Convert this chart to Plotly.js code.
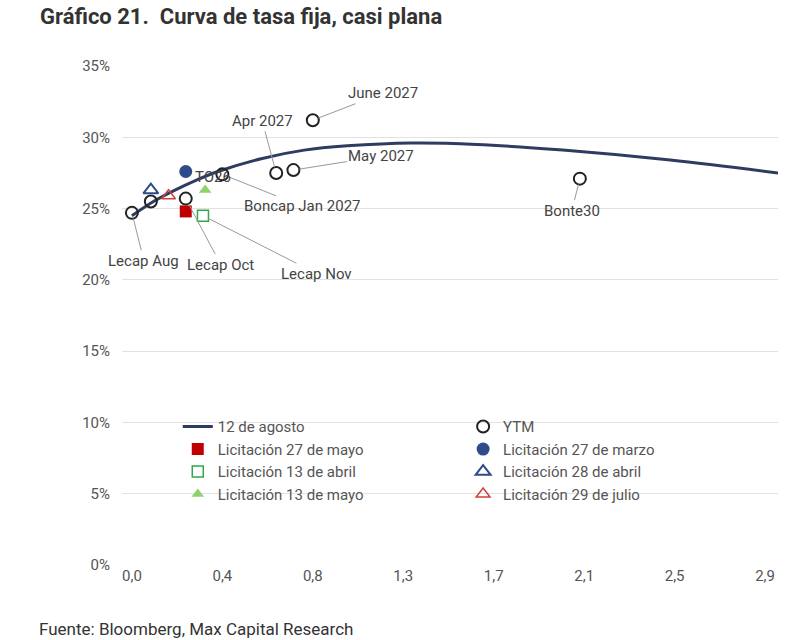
<!DOCTYPE html>
<html><head><meta charset="utf-8">
<script src="https://cdn.plot.ly/plotly-3.0.1.min.js"></script>
<style>body{margin:0}#chart{width:800px;height:640px}</style>
</head><body><div id="chart"></div>
<script>
// curve (12 de agosto)
var curveX=[0,0.1,0.2,0.3,0.4,0.6,0.8,1.0,1.3,1.6,2.0,2.5,3.0];
var curveY=[24.5,25.5,26.3,27.0,27.6,28.5,29.1,29.4,29.6,29.5,29.1,28.4,27.5];
// YTM bonds
var ytmNames=['Lecap Aug','','Lecap Oct','Boncap Jan 2027','Apr 2027','May 2027','June 2027','Bonte30'];
var ytmX=[0,0.088,0.25,0.42,0.67,0.75,0.84,2.08];
var ytmY=[24.7,25.5,25.7,27.4,27.5,27.7,31.2,27.1];
// auctions
var lic27mayoX=[0.25], lic27mayoY=[24.8];
var lic27marzoX=[0.25], lic27marzoY=[27.6];
var lic13abrilX=[0.33], lic13abrilY=[24.5];
var lic28abrilX=[0.088], lic28abrilY=[26.3];
var lic13mayoX=[0.34], lic13mayoY=[26.3];
var lic29julioX=[0.17], lic29julioY=[25.9];
var tickVals=[0,0.42,0.84,1.26,1.68,2.1,2.52,2.94];
var tickText=['0,0','0,4','0,8','1,3','1,7','2,1','2,5','2,9'];

var traces=[
 {name:'12 de agosto',x:curveX,y:curveY,mode:'lines',line:{color:'#2f3c62',width:3,shape:'spline'},legend:'legend'},
 {name:'Licitación 27 de mayo',x:lic27mayoX,y:lic27mayoY,mode:'markers',marker:{symbol:'square',size:12,color:'#c00000'},legend:'legend'},
 {name:'Licitación 13 de abril',x:lic13abrilX,y:lic13abrilY,mode:'markers',marker:{symbol:'square-open',size:11,color:'#2ea84a',line:{width:1.5}},legend:'legend'},
 {name:'Licitación 13 de mayo',x:lic13mayoX,y:lic13mayoY,mode:'markers',marker:{symbol:'triangle-up',size:11,color:'#8fd16a'},legend:'legend'},
 {name:'YTM',x:ytmX,y:ytmY,mode:'markers',marker:{symbol:'circle-open',size:12,color:'#222',line:{width:2}},legend:'legend2'},
 {name:'Licitación 27 de marzo',x:lic27marzoX,y:lic27marzoY,mode:'markers',marker:{symbol:'circle',size:13,color:'#2f4b8a'},legend:'legend2'},
 {name:'Licitación 28 de abril',x:lic28abrilX,y:lic28abrilY,mode:'markers',marker:{symbol:'triangle-up-open',size:13,color:'#2f4b8a',line:{width:2}},legend:'legend2'},
 {name:'Licitación 29 de julio',x:lic29julioX,y:lic29julioY,mode:'markers',marker:{symbol:'triangle-up-open',size:12,color:'#d04040',line:{width:1.5}},legend:'legend2'}
];

// label offsets (ax, ay) in pixels
var labOff=[[12,48],null,[35,66],[80,32],[-14,-52],[88,-14],[70,-27],[-8,32]];
var ann=[];
ytmNames.forEach(function(n,i){
  if(!n) return;
  ann.push({x:ytmX[i],y:ytmY[i],text:n,showarrow:true,arrowhead:0,arrowcolor:'#999',arrowwidth:1,
    ax:labOff[i][0],ay:labOff[i][1],font:{size:15,color:'#444'},standoff:6});
});
ann.push({x:lic13abrilX[0],y:lic13abrilY[0],text:'Lecap Nov',showarrow:true,arrowhead:0,arrowcolor:'#999',arrowwidth:1,ax:114,ay:58,font:{size:15,color:'#444'},standoff:6});
ann.push({x:lic27marzoX[0],y:lic27marzoY[0],text:'TO26',showarrow:false,xanchor:'left',xshift:7,yshift:-5,font:{size:15,color:'#444'}});
ann.push({xref:'paper',yref:'paper',x:-0.128,y:1.10,xanchor:'left',yanchor:'middle',text:'<b>Gráfico 21.  Curva de tasa fija, casi plana</b>',showarrow:false,font:{size:22,color:'#333',family:'Roboto'}});
ann.push({xref:'paper',yref:'paper',x:-0.13,y:-0.105,xanchor:'left',yanchor:'top',text:'Fuente: Bloomberg, Max Capital Research',showarrow:false,font:{size:17,color:'#333'}});

var legStyle={xanchor:'left',yanchor:'top',bgcolor:'rgba(0,0,0,0)',font:{size:15,color:'#555'},tracegroupgap:0,itemwidth:30};
var leg1=Object.assign({x:0.085,y:0.31},legStyle);
var leg2=Object.assign({x:0.52,y:0.31},legStyle);

Plotly.newPlot('chart',traces,{
  width:800,height:640,margin:{l:122,r:22,t:66,b:75},
  font:{family:'Roboto, sans-serif',size:15,color:'#555'},
  paper_bgcolor:'#fff',plot_bgcolor:'#fff',
  xaxis:{range:[-0.046,3.0],tickvals:tickVals,ticktext:tickText,showgrid:false,zeroline:false,showline:false,ticks:''},
  yaxis:{range:[0,35],dtick:5,ticksuffix:'%',gridcolor:'#e2e2e2',zeroline:false,showline:false,ticks:'outside',ticklen:8,tickcolor:'#fff'},
  legend:leg1,legend2:leg2,
  annotations:ann,showlegend:true
},{displayModeBar:false});
</script></body></html>
